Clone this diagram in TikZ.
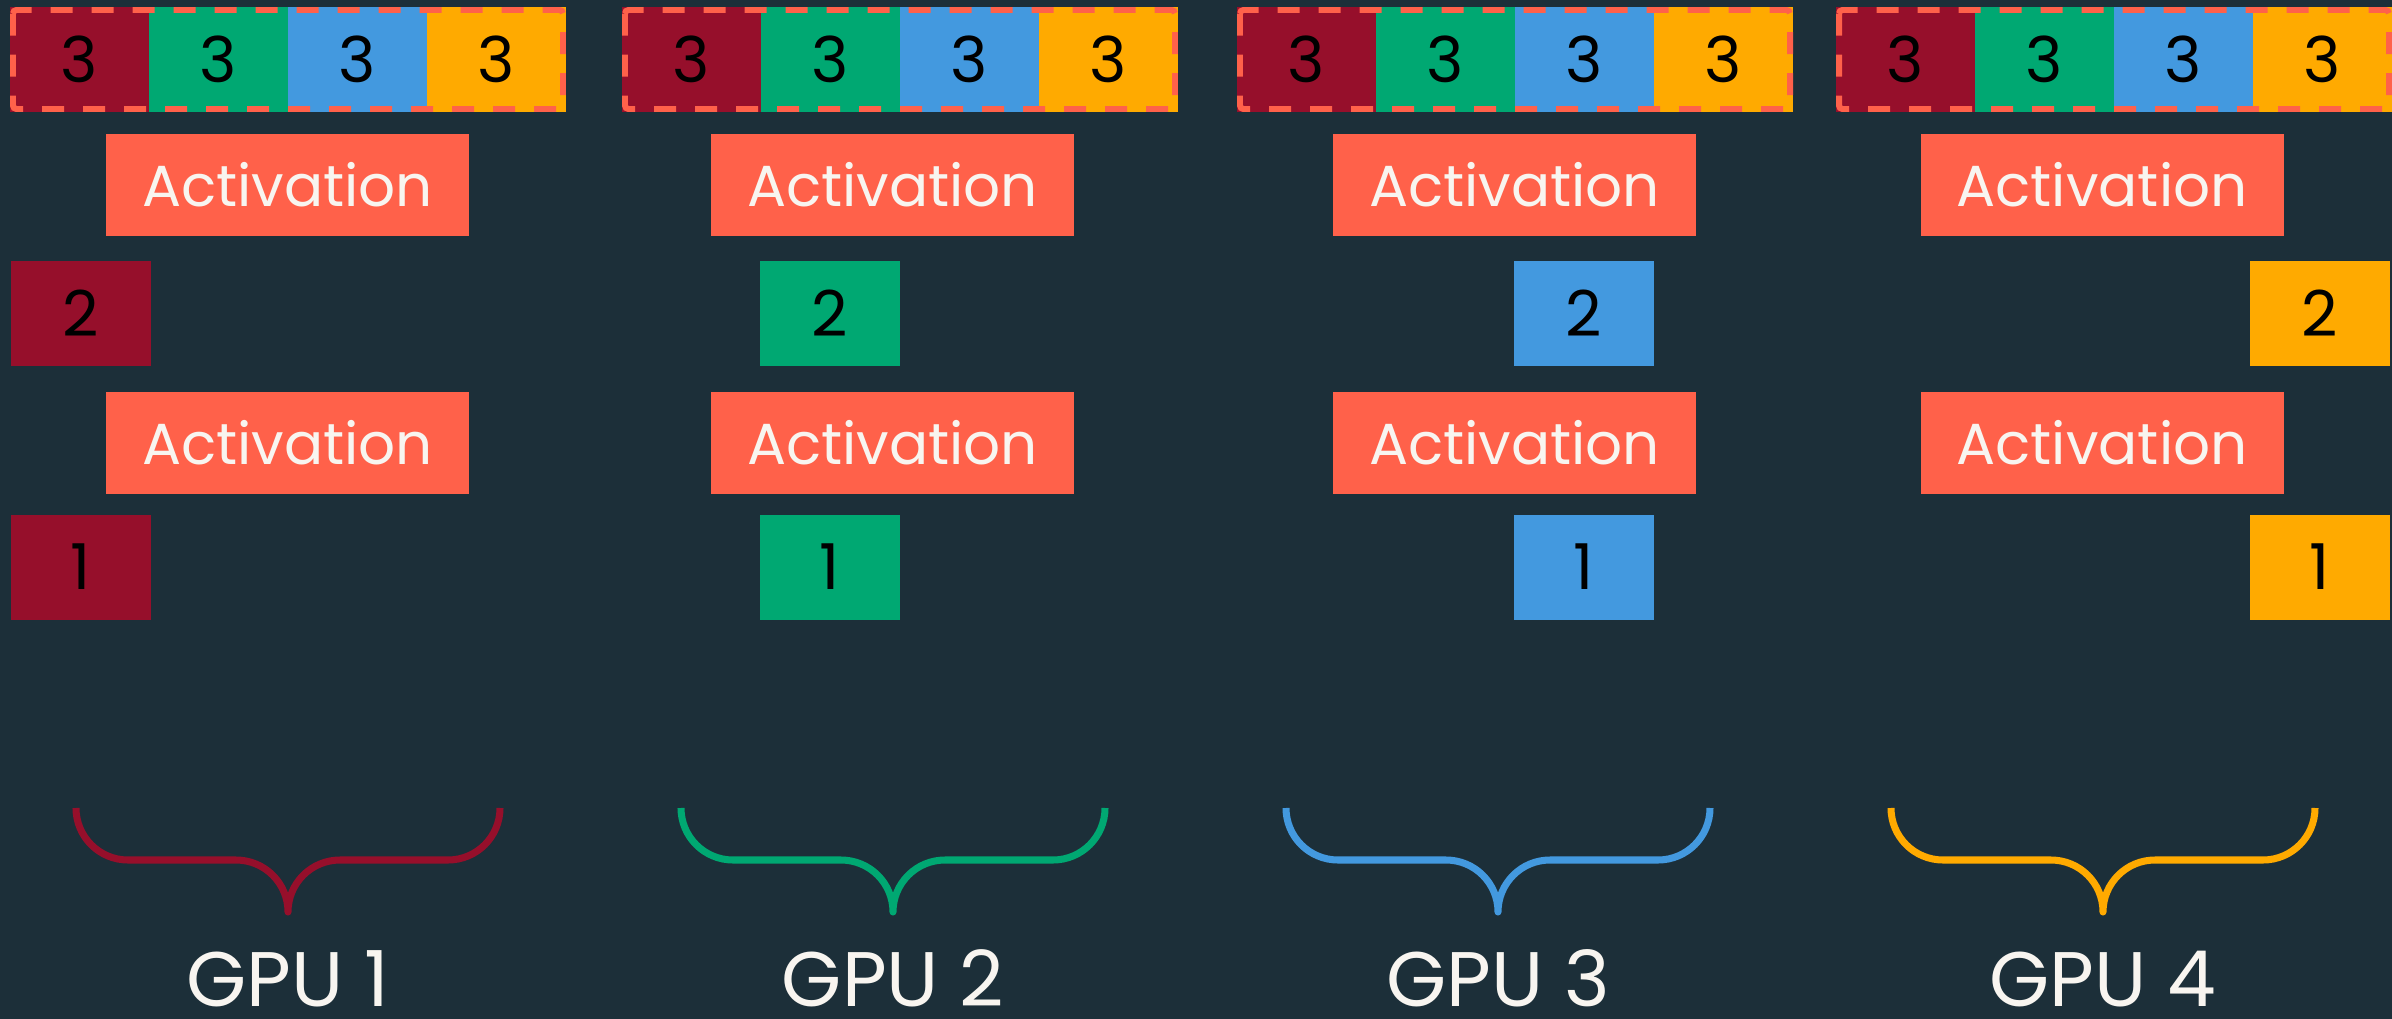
\documentclass[tikz,border=0pt]{standalone}
\usepackage{fontspec}
\setmainfont{Poppins}
\usetikzlibrary{positioning}

\definecolor{bgdark}{HTML}{1C2F39}
\definecolor{gpuone}{HTML}{960F2B}
\definecolor{gputwo}{HTML}{00A872}
\definecolor{gputhree}{HTML}{4399DF}
\definecolor{gpufour}{HTML}{FFAA00}
\definecolor{actcoral}{HTML}{FF614A}
\definecolor{offwhite}{HTML}{F8F5F0}

\begin{document}
\begin{tikzpicture}[
    node distance=0cm,
    cell/.style={
        rectangle,
        minimum width=1.39cm,
        minimum height=1.05cm,
        inner sep=0pt,
        outer sep=0pt,
        text=black,
        font=\fontsize{18}{20}\selectfont
    },
    chunk/.style={cell, minimum width=1.40cm},
    act/.style={
        rectangle,
        fill=actcoral,
        minimum width=3.63cm,
        minimum height=1.02cm,
        inner sep=0pt,
        text=offwhite,
        font=\fontsize{16.5}{20}\selectfont
    },
    shard/.style={draw=actcoral, line width=1.7pt, dash pattern=on 0.22cm off 0.19cm, rounded corners=1pt},
    gpulabel/.style={text=offwhite, inner sep=0pt, anchor=base, font=\fontsize{22}{26}\selectfont},
    bracket/.style={line width=2pt, line join=round},
    gpubrace/.pic={
        \draw[bracket] (-2.12,0) arc[start angle=180, end angle=270, radius=0.52]
            -- (-0.52,-0.52) arc[start angle=90, end angle=0, radius=0.52]
            arc[start angle=180, end angle=90, radius=0.52]
            -- (1.60,-0.52) arc[start angle=270, end angle=360, radius=0.52];
    }
]
\fill[bgdark] (0,0) rectangle (23.92,-10.19);
\useasboundingbox (0,0) rectangle (23.92,-10.19);

% GPU 1
\node[cell, fill=gpuone, anchor=north west] (top1a) at (0.10,-0.07) {3};
\node[cell, fill=gputwo, right=of top1a] (top1b) {3};
\node[cell, fill=gputhree, right=of top1b] (top1c) {3};
\node[cell, fill=gpufour, right=of top1c] (top1d) {3};
\draw[shard] ([shift={(0.03,-0.03)}]top1a.north west) rectangle ([shift={(-0.03,0.03)}]top1d.south east);
\node[act] (act1a) at (2.875,-1.85) {Activation};
\node[chunk, fill=gpuone] (mid1) at (0.81,-3.135) {2};
\node[act] (act1b) at (2.875,-4.43) {Activation};
\node[chunk, fill=gpuone] (low1) at (0.81,-5.67) {1};
\pic[color=gpuone] at (2.88,-8.08) {gpubrace};
\node[gpulabel] (gpu1) at (2.88,-10.06) {GPU 1};

% GPU 2
\node[cell, fill=gpuone, anchor=north west] (top2a) at (6.22,-0.07) {3};
\node[cell, fill=gputwo, right=of top2a] (top2b) {3};
\node[cell, fill=gputhree, right=of top2b] (top2c) {3};
\node[cell, fill=gpufour, right=of top2c] (top2d) {3};
\draw[shard] ([shift={(0.03,-0.03)}]top2a.north west) rectangle ([shift={(-0.03,0.03)}]top2d.south east);
\node[act] (act2a) at (8.925,-1.85) {Activation};
\node[chunk, fill=gputwo] (mid2) at (8.295,-3.135) {2};
\node[act] (act2b) at (8.925,-4.43) {Activation};
\node[chunk, fill=gputwo] (low2) at (8.295,-5.67) {1};
\pic[color=gputwo] at (8.93,-8.08) {gpubrace};
\node[gpulabel] (gpu2) at (8.93,-10.06) {GPU 2};

% GPU 3
\node[cell, fill=gpuone, anchor=north west] (top3a) at (12.37,-0.07) {3};
\node[cell, fill=gputwo, right=of top3a] (top3b) {3};
\node[cell, fill=gputhree, right=of top3b] (top3c) {3};
\node[cell, fill=gpufour, right=of top3c] (top3d) {3};
\draw[shard] ([shift={(0.03,-0.03)}]top3a.north west) rectangle ([shift={(-0.03,0.03)}]top3d.south east);
\node[act] (act3a) at (15.145,-1.85) {Activation};
\node[chunk, fill=gputhree] (mid3) at (15.835,-3.135) {2};
\node[act] (act3b) at (15.145,-4.43) {Activation};
\node[chunk, fill=gputhree] (low3) at (15.835,-5.67) {1};
\pic[color=gputhree] at (14.98,-8.08) {gpubrace};
\node[gpulabel] (gpu3) at (14.98,-10.06) {GPU 3};

% GPU 4
\node[cell, fill=gpuone, anchor=north west] (top4a) at (18.36,-0.07) {3};
\node[cell, fill=gputwo, right=of top4a] (top4b) {3};
\node[cell, fill=gputhree, right=of top4b] (top4c) {3};
\node[cell, fill=gpufour, right=of top4c] (top4d) {3};
\draw[shard] ([shift={(0.03,-0.03)}]top4a.north west) rectangle ([shift={(-0.03,0.03)}]top4d.south east);
\node[act] (act4a) at (21.02,-1.85) {Activation};
\node[chunk, fill=gpufour] (mid4) at (23.20,-3.135) {2};
\node[act] (act4b) at (21.02,-4.43) {Activation};
\node[chunk, fill=gpufour] (low4) at (23.20,-5.67) {1};
\pic[color=gpufour] at (21.03,-8.08) {gpubrace};
\node[gpulabel] (gpu4) at (21.03,-10.06) {GPU 4};
\end{tikzpicture}
\end{document}
